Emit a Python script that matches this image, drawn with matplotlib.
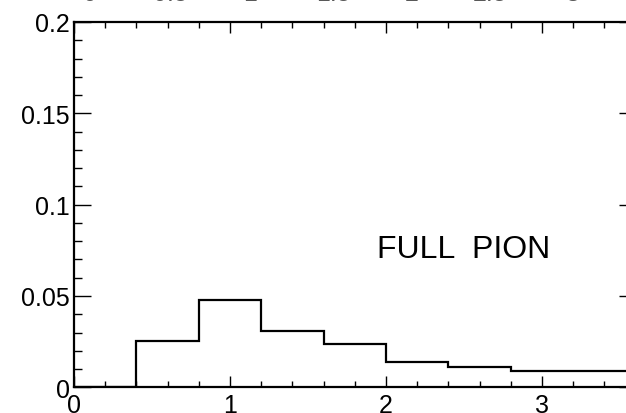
import matplotlib
matplotlib.use("Agg")
import matplotlib.pyplot as plt
import numpy as np
from matplotlib.ticker import MultipleLocator

plt.rcParams['font.family'] = ['Liberation Sans', 'DejaVu Sans']

# Histogram contents
bin_edges = [0.0, 0.4, 0.8, 1.2, 1.6, 2.0, 2.4, 2.8, 3.2, 3.6]
counts = [0.0004, 0.0252, 0.048, 0.031, 0.0237, 0.0139, 0.0111, 0.0088, 0.0088]
label_text = "FULL  PION"

# Tick labels of the panel above (only their lower edge shows)
upper_labels = ["0", "0.5", "1", "1.5", "2", "2.5", "3"]
upper_label_x = [90, 170, 250, 333, 412, 490, 573]

W, H = 626, 414
fig = plt.figure(figsize=(W / 100, H / 100), dpi=100)
ax = fig.add_axes([74 / W, (H - 388.3) / H, 561.6 / W, (388.3 - 23) / H])

ax.stairs(counts, bin_edges, color='black', lw=1.6, baseline=None)
ax.set_xlim(0, 3.6)
ax.set_ylim(0, 0.2)

ax.xaxis.set_major_locator(MultipleLocator(1))
ax.xaxis.set_minor_locator(MultipleLocator(0.2))
ax.yaxis.set_major_locator(MultipleLocator(0.05))
ax.yaxis.set_minor_locator(MultipleLocator(0.01))
ax.yaxis.set_major_formatter(plt.FuncFormatter(lambda v, p: f"{v:g}"))

for s in ax.spines.values():
    s.set_linewidth(1.6)

ax.tick_params(axis='both', which='both', direction='in', top=True, right=True,
               labelsize=18, width=1.0, colors='black')
ax.tick_params(axis='x', which='major', length=8, pad=4)
ax.tick_params(axis='x', which='minor', length=4.5)
ax.tick_params(axis='y', which='major', length=12.5, pad=3)
ax.tick_params(axis='y', which='minor', length=6)

ax.text(1.94, 0.0757, label_text, fontsize=23, ha='left', va='center')

for t, px in zip(upper_labels, upper_label_x):
    fig.text(px / W, (H - 1.2) / H, t, fontsize=18, ha='center', va='baseline',
             color='0.35')

fig.savefig("out.png", dpi=100)
